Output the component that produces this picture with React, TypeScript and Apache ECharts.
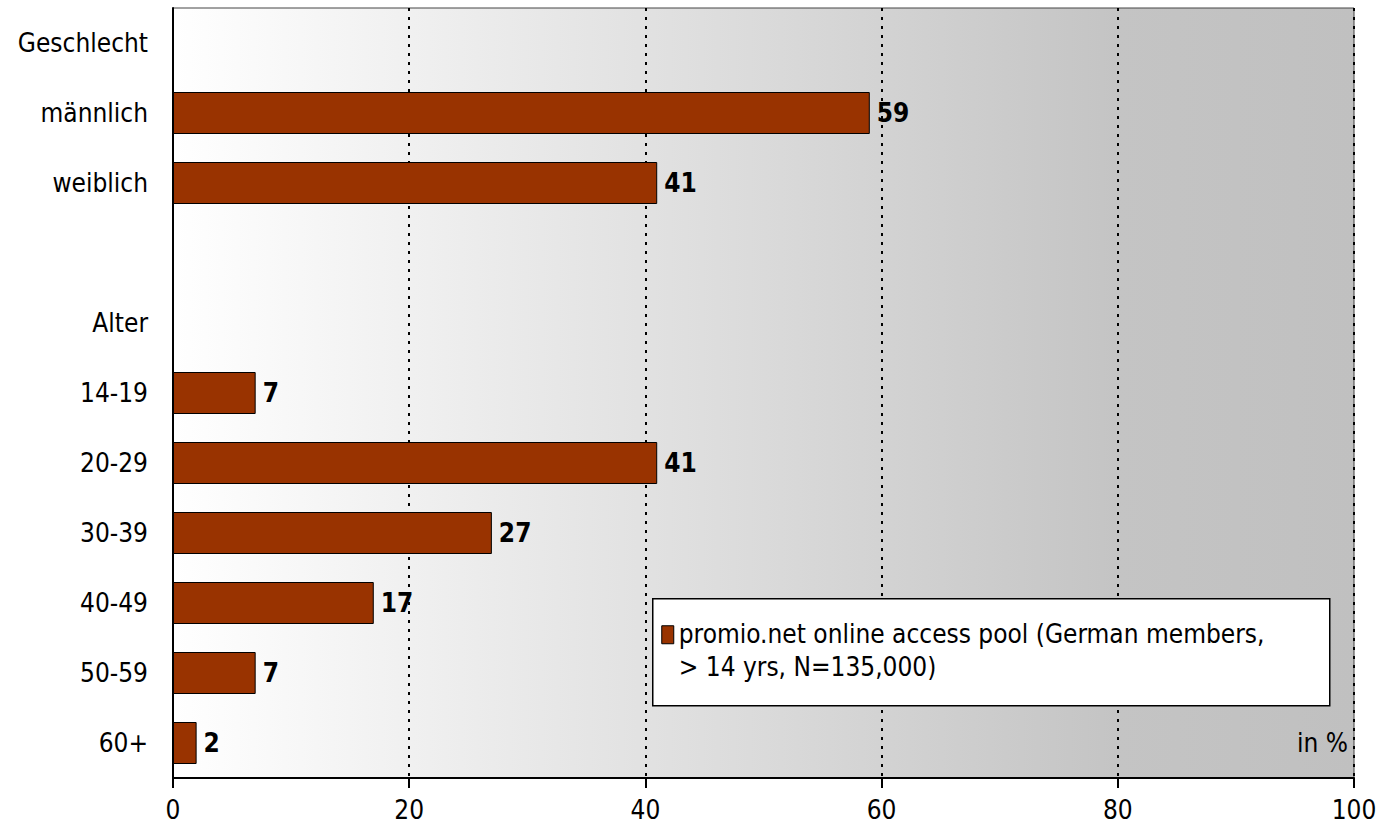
import React, { useEffect, useRef } from "react";
import * as echarts from "echarts";

const categories = ["Geschlecht", "männlich", "weiblich", "", "Alter", "14-19", "20-29", "30-39", "40-49", "50-59", "60+"];
const values: (number | null)[] = [null, 59, 41, null, null, 7, 41, 27, 17, 7, 2];
const seriesName = "promio.net online access pool (German members,\n> 14 yrs, N=135,000)";
const unitLabel = "in %";

const FONT = "'DejaVu Sans Condensed', 'Liberation Sans Narrow', 'DejaVu Sans', sans-serif";
const FS = 26;

export default function App() {
  const ref = useRef<HTMLDivElement>(null);
  useEffect(() => {
    document.body.style.margin = "0";
    if (!ref.current) return;
    const chart = echarts.init(ref.current, null, { renderer: "svg" });
    chart.setOption({
      animation: false,
      textStyle: { fontFamily: FONT },
      grid: {
        left: 173,
        right: 26,
        top: 8,
        bottom: 59,
        show: true,
        borderWidth: 1,
        borderColor: "#444",
        backgroundColor: new echarts.graphic.LinearGradient(0, 0, 1, 0, [
          { offset: 0, color: "#ffffff" },
          { offset: 0.8, color: "#c4c4c4" },
          { offset: 1, color: "#c0c0c0" },
        ]),
      },
      xAxis: {
        type: "value",
        min: 0,
        max: 100,
        interval: 20,
        axisLine: { show: true, lineStyle: { color: "#000", width: 2 } },
        axisTick: { show: true, length: 10, lineStyle: { color: "#000", width: 2 } },
        axisLabel: { color: "#000", fontSize: FS, margin: 19, fontFamily: FONT },
        splitLine: { show: true, lineStyle: { color: "#000", width: 2, type: [3, 6] } },
      },
      yAxis: {
        type: "category",
        inverse: true,
        data: categories,
        axisLine: { show: true, lineStyle: { color: "#000", width: 2 } },
        axisTick: { show: false },
        axisLabel: { color: "#000", fontSize: FS, margin: 25, fontFamily: FONT },
        splitLine: { show: false },
      },
      series: [
        {
          type: "bar",
          name: seriesName,
          data: values,
          barWidth: 42,
          itemStyle: { color: "#993300", borderColor: "#000", borderWidth: 1 },
          label: {
            show: true,
            position: "right",
            distance: 7,
            color: "#000",
            fontSize: FS,
            fontWeight: "bold",
            fontFamily: FONT,
          },
        },
      ],
      graphic: [
        {
          type: "group",
          left: 652,
          top: 598,
          z: 100,
          children: [
            {
              type: "rect",
              z: 100,
              shape: { x: 0, y: 0, width: 677, height: 107 },
              style: { fill: "#fff", stroke: "#000", lineWidth: 1.5 },
            },
            {
              type: "rect",
              z: 101,
              shape: { x: 9, y: 27, width: 12, height: 18 },
              style: { fill: "#993300", stroke: "#000", lineWidth: 1 },
            },
            {
              type: "text",
              z: 101,
              x: 26,
              y: 19,
              style: {
                text: seriesName,
                fontSize: FS,
                lineHeight: 33,
                fill: "#000",
                fontFamily: FONT,
              },
            },
          ],
        },
        {
          type: "text",
          right: 32,
          top: 730,
          z: 100,
          style: { text: unitLabel, fontSize: FS, fill: "#000", fontFamily: FONT },
        },
      ],
    });
    return () => chart.dispose();
  }, []);
  return <div ref={ref} style={{ width: 1380, height: 837 }} />;
}
